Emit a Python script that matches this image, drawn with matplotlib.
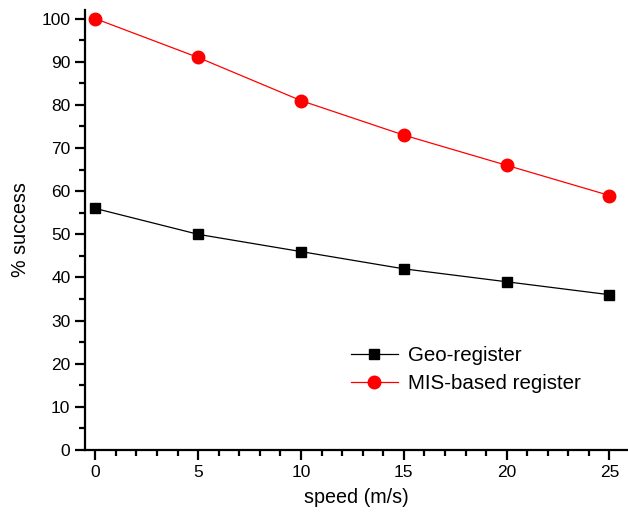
import matplotlib
matplotlib.use("Agg")
import matplotlib.pyplot as plt
from matplotlib.ticker import MultipleLocator

plt.rcParams['font.family'] = ['Liberation Sans', 'DejaVu Sans']

# data
speed = [0, 5, 10, 15, 20, 25]
geo_register = [56, 50, 46, 42, 39, 36]
mis_register = [100, 91, 81, 73, 66, 59]

fig = plt.figure(figsize=(6.28, 5.14), dpi=100)
ax = fig.add_axes([0.1354, 0.1245, 0.8646, 0.856])

ax.plot(speed, geo_register, color='black', lw=0.9, marker='s', ms=7.5,
        label='Geo-register')
ax.plot(speed, mis_register, color='red', lw=0.9, marker='o', ms=9,
        label='MIS-based register')

ax.set_xlim(-0.5, 25.9)
ax.set_ylim(0, 102)
ax.xaxis.set_major_locator(MultipleLocator(5))
ax.xaxis.set_minor_locator(MultipleLocator(1))
ax.yaxis.set_major_locator(MultipleLocator(10))
ax.yaxis.set_minor_locator(MultipleLocator(5))

for side in ['top', 'right']:
    ax.spines[side].set_visible(False)
for side in ['left', 'bottom']:
    ax.spines[side].set_linewidth(1.6)

ax.tick_params(which='major', direction='out', length=7, width=1.6,
               labelsize=12.5)
ax.tick_params(which='minor', direction='out', length=4, width=1.6)

ax.set_xlabel('speed (m/s)', fontsize=14.2, labelpad=6)
ax.set_ylabel('% success', fontsize=14.2, labelpad=8)

ax.legend(loc='lower left', bbox_to_anchor=(0.455, 0.087), frameon=False,
          fontsize=14.8, handlelength=2.3, handletextpad=0.5, labelspacing=0.45)

fig.savefig('out.png', dpi=100)
